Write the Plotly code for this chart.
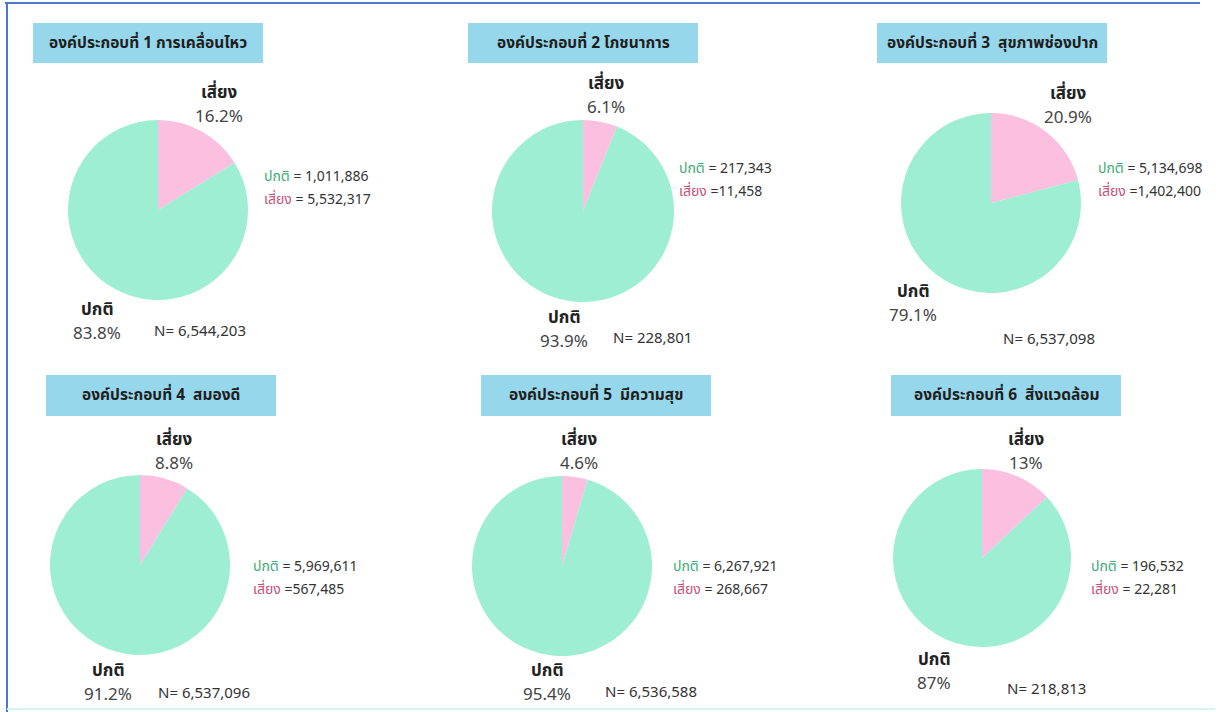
import plotly.graph_objects as go

W, H = 1220, 712

titles = [
    "องค์ประกอบที่ 1 การเคลื่อนไหว",
    "องค์ประกอบที่ 2 โภชนาการ",
    "องค์ประกอบที่ 3  สุขภาพช่องปาก",
    "องค์ประกอบที่ 4  สมองดี",
    "องค์ประกอบที่ 5  มีความสุข",
    "องค์ประกอบที่ 6  สิ่งแวดล้อม",
]
slice_labels = ["เสี่ยง", "ปกติ"]
risk_pct = [16.2, 6.1, 20.9, 8.8, 4.6, 13]
normal_pct = [83.8, 93.9, 79.1, 91.2, 95.4, 87]
normal_count = [1011886, 217343, 5134698, 5969611, 6267921, 196532]
risk_count = [5532317, 11458, 1402400, 567485, 268667, 22281]
n_total = [6544203, 228801, 6537098, 6537096, 6536588, 218813]
risk_eq = [" = ", " =", " =", " =", " = ", " = "]

# layout (pixel positions)
pie_c = [(158, 210, 90), (583, 211, 91), (991, 203, 90),
         (140, 565, 90), (562, 566, 90), (982, 558, 89)]
title_box = [(33, 23, 263, 63), (468, 23, 698, 63), (877, 23, 1107, 63),
             (46, 375, 276, 416), (481, 375, 711, 416), (891, 375, 1121, 416)]
risk_lbl = [(219, 105), (606, 96), (1068, 106),
            (174, 452), (579, 452), (1026, 452)]
norm_lbl = [(97, 322), (564, 330), (913, 304),
            (108, 683), (547, 683), (934, 672)]
n_pos = [(153, 331), (612, 338), (1002, 339), (157, 693), (604, 692), (1006, 689)]
side_pos = [(263, 188), (678, 180), (1097, 180),
            (252, 578), (672, 578), (1090, 578)]

GREEN = "#9eeed3"
PINK = "#fbbfe0"
BOX = "#97d7ec"
FONT = "Noto Sans Thai, Noto Sans, Sarabun, Roboto, sans-serif"

def px(x):
    return x / W

def py(y):
    return 1 - y / H

fig = go.Figure()
annotations = []
shapes = []

def ann(text, x, y, size, color, xanchor="center"):
    annotations.append(dict(text=text, x=px(x), y=py(y), xref="paper", yref="paper",
                            xanchor=xanchor, yanchor="middle", showarrow=False,
                            borderpad=0,
                            font=dict(size=size, color=color, family=FONT)))

for i in range(6):
    cx, cy, r = pie_c[i]
    fig.add_trace(go.Pie(
        labels=slice_labels,
        values=[risk_pct[i], normal_pct[i]],
        sort=False, direction="clockwise", rotation=0,
        marker=dict(colors=[PINK, GREEN], line=dict(color="white", width=0)),
        textinfo="none", hoverinfo="label+percent", showlegend=False,
        domain=dict(x=[px(cx - r), px(cx + r)], y=[py(cy + r), py(cy - r)]),
    ))
    x0, y0, x1, y1 = title_box[i]
    shapes.append(dict(type="rect", xref="paper", yref="paper",
                       x0=px(x0), x1=px(x1), y0=py(y1), y1=py(y0),
                       fillcolor=BOX, line=dict(width=0), layer="below"))
    ann("<b>" + titles[i] + "</b>", (x0 + x1) / 2, (y0 + y1) / 2, 15.5, "#1e1e1e")
    lx, ly = risk_lbl[i]
    ann("<b>" + slice_labels[0] + "</b>", lx, ly - 12, 17, "#222222")
    ann(f"{risk_pct[i]:g}%", lx, ly + 12, 17, "#444444")
    lx, ly = norm_lbl[i]
    ann("<b>" + slice_labels[1] + "</b>", lx, ly - 12, 17, "#222222")
    ann(f"{normal_pct[i]:g}%", lx, ly + 12, 17, "#444444")
    nx, ny = n_pos[i]
    ann(f"N= {n_total[i]:,}", nx, ny, 15, "#333333", "left")
    sx, sy = side_pos[i]
    ann(f"<span style='color:#3daa78'>{slice_labels[1]}</span> = {normal_count[i]:,}",
        sx, sy - 11.5, 14, "#333333", "left")
    ann(f"<span style='color:#c64f78'>{slice_labels[0]}</span>{risk_eq[i]}{risk_count[i]:,}",
        sx, sy + 11.5, 14, "#333333", "left")

# frame lines
shapes.append(dict(type="line", xref="paper", yref="paper", x0=px(5), x1=px(1200), y0=py(3), y1=py(3),
                   line=dict(color="#4a78cf", width=2)))
shapes.append(dict(type="line", xref="paper", yref="paper", x0=px(7), x1=px(7), y0=py(3), y1=py(712),
                   line=dict(color="#4a78cf", width=2)))
shapes.append(dict(type="line", xref="paper", yref="paper", x0=px(7), x1=px(1215), y0=py(709), y1=py(709),
                   line=dict(color="#d8f3f8", width=2)))

fig.update_layout(
    width=W, height=H,
    margin=dict(l=0, r=0, t=0, b=0),
    paper_bgcolor="white", plot_bgcolor="white",
    annotations=annotations, shapes=shapes,
    font=dict(family=FONT),
)

fig.write_html("out.html")
